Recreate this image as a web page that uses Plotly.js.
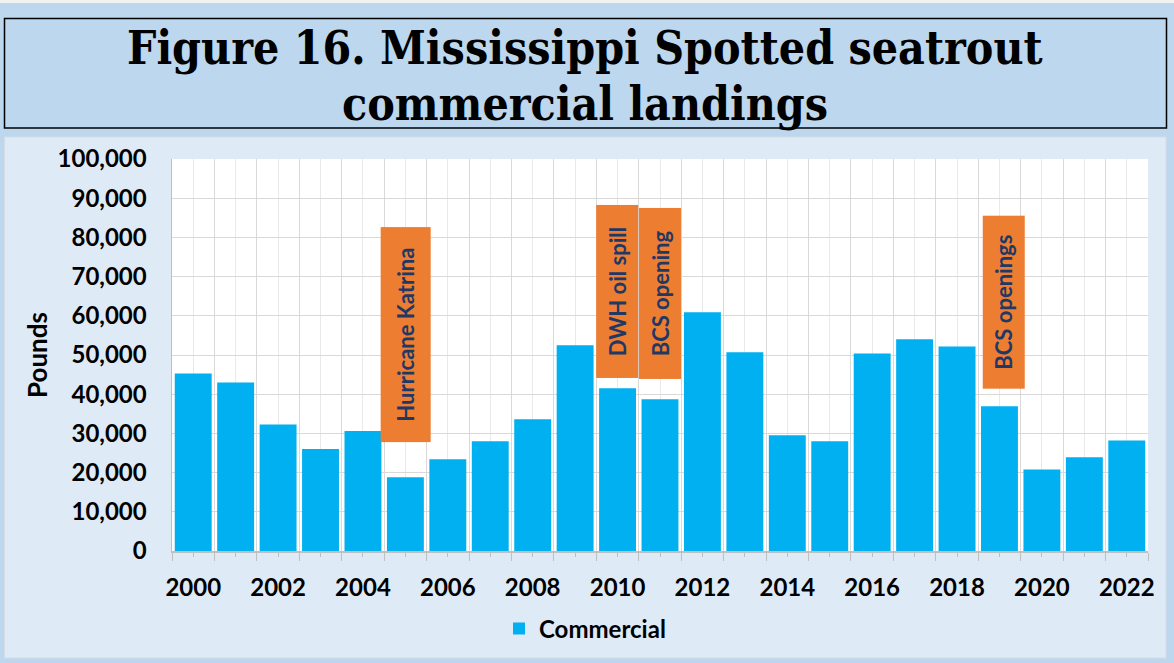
<!DOCTYPE html>
<html><head><meta charset="utf-8">
<script src="https://cdn.plot.ly/plotly-3.0.1.min.js"></script>
<style>html,body{margin:0;padding:0;background:#BDD7EE;overflow:hidden}#chart{width:1174px;height:663px;}</style>
</head><body><div id="chart"></div>
<script>
// ---- data ----
const years = [2000,2001,2002,2003,2004,2005,2006,2007,2008,2009,2010,2011,2012,2013,2014,2015,2016,2017,2018,2019,2020,2021,2022];
const commercial = [45300,43000,32300,26000,30600,18800,23400,28000,33600,52500,41500,38700,60900,50700,29500,28000,50400,54000,52200,36900,20800,23900,28200];
const xTickYears = [2000,2002,2004,2006,2008,2010,2012,2014,2016,2018,2020,2022];
const xTickLabels = ['2000','2002','2004','2006','2008','2010','2012','2014','2016','2018','2020','2022'];
const yTickValues = [0,10000,20000,30000,40000,50000,60000,70000,80000,90000,100000];
const eventLabels = ['Hurricane Katrina','DWH oil spill','BCS opening','BCS openings'];
const eventYears = [2005,2010,2011,2019];
const seriesName = 'Commercial';
const titleLines = ['Figure 16. Mississippi Spotted seatrout', 'commercial landings'];

// ---- layout helpers ----
const W = 1174, H = 663;
const M = {l:172, r:26, t:159, b:112};
const pw = W - M.l - M.r, ph = H - M.t - M.b;
const px = x => (x - M.l) / pw;
const py = y => (H - M.b - y) / ph;

const FONT = 'Lato, "Open Sans", sans-serif';
const gridCol = '#D9D9D9';
const axisCol = '#BFBFBF';

const boundaries = [];
for (let i = 0; i <= years.length; i++) boundaries.push(years[0] - 0.5 + i);

const trace = {
  type: 'bar', x: years, y: commercial, name: seriesName,
  marker: {color: '#00B0F0'}, xaxis: 'x', yaxis: 'y'
};
const labelTrace = {type: 'scatter', x: [], y: [], xaxis: 'x2', yaxis: 'y', showlegend: false, hoverinfo: 'skip'};

// event annotation boxes
const eventGeom = [
  {yv: 55300, len: 214, thick: 49, dx: 0},
  {yv: 66100, len: 172, thick: 41, dx: 0},
  {yv: 65700, len: 170, thick: 41, dx: 0},
  {yv: 63400, len: 172, thick: 41, dx: 0.1}
];
const annotations = eventLabels.map((t, i) => ({
  x: eventYears[i] + eventGeom[i].dx, y: eventGeom[i].yv, xref: 'x', yref: 'y',
  text: t, showarrow: false, textangle: -90,
  width: eventGeom[i].len, height: eventGeom[i].thick, borderpad: 0,
  bgcolor: '#ED7D31', font: {family: FONT, size: 22, color: '#1F3864', weight: 'bold'},
  xanchor: 'center', yanchor: 'middle', align: 'center', valign: 'middle'
}));
const titleY = [48.5, 103.5];
titleLines.forEach((t, i) => annotations.push({
  x: px(585), y: py(titleY[i]), xref: 'paper', yref: 'paper', text: t, showarrow: false,
  xanchor: 'center', yanchor: 'middle', borderpad: 0,
  font: {family: '"DejaVu Serif Condensed", "DejaVu Serif", serif', size: 46, color: '#000', weight: 'bold'}
}));
annotations.push({
  x: px(37), y: py(355), xref: 'paper', yref: 'paper', text: 'Pounds', showarrow: false,
  textangle: -90, xanchor: 'center', yanchor: 'middle',
  font: {family: FONT, size: 26, color: '#000', weight: 'bold'}
});

const shapes = [
  {type:'rect', xref:'paper', yref:'paper', x0:px(-5), x1:px(W+5), y0:py(-5), y1:py(3), fillcolor:'#F2F2F2', line:{width:0}, layer:'below'},
  {type:'rect', xref:'paper', yref:'paper', x0:px(4.5), x1:px(1166.5), y0:py(128), y1:py(18.5), fillcolor:'#BDD7EE', line:{color:'#000', width:1.5}, layer:'below'},
  {type:'rect', xref:'paper', yref:'paper', x0:px(4.5), x1:px(1166), y0:py(658), y1:py(137), fillcolor:'#DEEAF6', line:{color:'#D6DCE5', width:1}, layer:'below'},
  {type:'rect', xref:'paper', yref:'paper', x0:0, x1:1, y0:0, y1:1, fillcolor:'#FFFFFF', line:{width:0}, layer:'below'}
];

const layout = {
  width: W, height: H, margin: M,
  paper_bgcolor: '#BDD7EE', plot_bgcolor: 'rgba(0,0,0,0)',
  bargap: 0.13,
  showlegend: true,
  legend: {orientation: 'h', x: px(585), xanchor: 'center', y: py(629), yanchor: 'middle',
           font: {family: FONT, size: 24, color: '#000', weight: 'bold'}, bgcolor: 'rgba(0,0,0,0)'},
  xaxis: {
    range: [years[0]-0.5, years[years.length-1]+0.5], tickmode: 'array', tickvals: boundaries,
    ticktext: boundaries.map(() => ''), ticks: 'outside', ticklen: 8, tickcolor: axisCol, tickwidth: 1,
    showgrid: true, gridcolor: gridCol, gridwidth: 1, showline: true, linecolor: axisCol, linewidth: 1.5,
    zeroline: false, fixedrange: true,
    minor: {tickmode: 'array', tickvals: years, ticks: 'outside', ticklen: 4, tickcolor: axisCol, showgrid: true, gridcolor: '#E9E9E9', gridwidth: 1}
  },
  xaxis2: {
    overlaying: 'x', anchor: 'y', side: 'bottom', matches: 'x',
    range: [years[0]-0.5, years[years.length-1]+0.5],
    tickmode: 'array', tickvals: xTickYears, ticktext: xTickLabels, ticks: '', showgrid: false,
    showline: false, zeroline: false, ticklabelstandoff: 20,
    tickfont: {family: FONT, size: 24, color: '#000', weight: 'bold'}
  },
  yaxis: {
    range: [0, 100000], tickmode: 'array', tickvals: yTickValues, tickformat: ',',
    showgrid: true, gridcolor: gridCol, gridwidth: 1, showline: true, linecolor: axisCol, linewidth: 1.5,
    zeroline: false, ticks: '', ticklabelstandoff: 19,
    tickfont: {family: FONT, size: 24, color: '#000', weight: 'bold'}
  },
  shapes: shapes,
  annotations: annotations
};

Plotly.newPlot('chart', [trace, labelTrace], layout, {displayModeBar: false, staticPlot: true});
</script>
</body></html>
